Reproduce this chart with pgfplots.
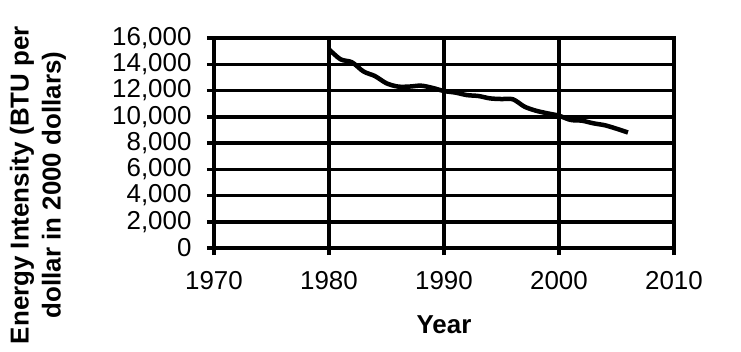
\documentclass[border=0pt]{standalone}
\usepackage{fontspec}
\setmainfont{Liberation Sans}
\usepackage{pgfplots}
\pgfplotsset{compat=1.18}
\begin{document}
\begin{tikzpicture}
\begin{axis}[
  scale only axis,
  width=460bp, height=210bp,
  xmin=1970, xmax=2010, ymin=0, ymax=16000,
  xtick={1970,1980,1990,2000,2010},
  ytick={0,2000,4000,6000,8000,10000,12000,14000,16000},
  grid=major,
  major grid style={black, line width=3.5bp},
  axis line style={black, line width=3.5bp},
  every tick/.style={black, line width=3.5bp},
  tick align=outside,
  major tick length=7bp,
  xtick pos=bottom, ytick pos=left,
  /pgf/number format/assume math mode=true,
  font=\fontsize{26}{32}\selectfont,
  tick label style={font=\fontsize{26}{32}\selectfont},
  yticklabel style={/pgf/number format/1000 sep={,}, xshift=-12bp},
  xticklabel style={/pgf/number format/1000 sep={}, yshift=-13bp},
  scaled y ticks=false,
  xlabel={\bfseries Year},
  ylabel={\bfseries Energy Intensity (BTU per\\\bfseries dollar in 2000 dollars)},
  ylabel style={align=center, at={(rel axis cs:-0.3826,0.300)}, anchor=center},
  xlabel style={at={(rel axis cs:0.5,-0.3667)}, anchor=center},
  clip=false,
]
\addplot[black, line width=4.5bp, smooth] coordinates {
(1980,15140) (1981,14380) (1982,14150) (1983,13450) (1984,13100) (1985,12550)
(1986,12300) (1987,12300) (1988,12370) (1989,12200) (1990,11960) (1991,11840)
(1992,11650) (1993,11580) (1994,11400) (1995,11350) (1996,11330) (1997,10770)
(1998,10460) (1999,10260) (2000,10080) (2001,9760) (2002,9700) (2003,9500)
(2004,9350) (2005,9090) (2006,8800)
};
\coordinate (BL) at (rel axis cs:-0.4652,-0.4905);
\coordinate (TR) at (rel axis cs:1.1457,1.181);
\end{axis}
\pgfresetboundingbox
\path[use as bounding box] (BL) rectangle (TR);
\end{tikzpicture}
\end{document}
